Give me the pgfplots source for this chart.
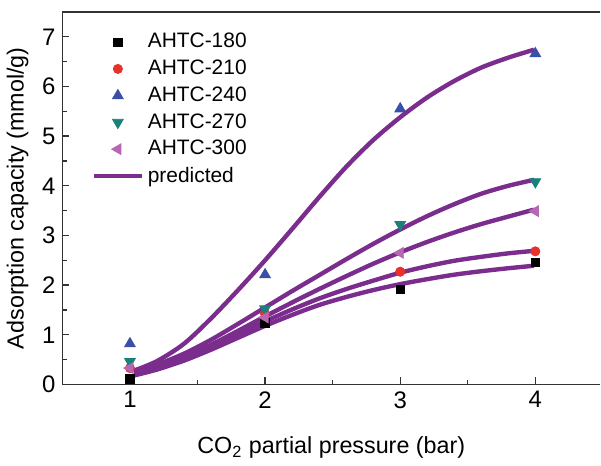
\documentclass[border=0pt]{standalone}
\usepackage{pgfplots}
\pgfplotsset{compat=1.18}
\usepackage{fontspec}
\setmainfont{Liberation Sans}

\definecolor{cred}{HTML}{E8312B}
\definecolor{cblue}{HTML}{3A4FA8}
\definecolor{cteal}{HTML}{1A807A}
\definecolor{cpink}{HTML}{B766B3}
\definecolor{cline}{HTML}{7B2D8E}

\begin{document}
\begin{tikzpicture}
\begin{axis}[
    scale only axis,
    width=270pt, height=187pt,
    xmin=0.5, xmax=4.48,
    ymin=0, ymax=7.5,
    axis y line*=left,
    axis x line*=box,
    axis line style={black!80, line width=0.8pt},
    xtick={1,2,3,4},
    ytick={0,1,...,7},
    minor x tick num=1,
    minor y tick num=1,
    xtick pos=bottom, ytick pos=left,
    tick align=inside,
    major tick length=3.5pt, minor tick length=2.2pt,
    tick style={black!80, line width=0.7pt},
    /pgf/number format/assume math mode=true,
    ticklabel style={font=\fontsize{12}{14}\selectfont},
    xlabel={CO\textsubscript{2} partial pressure (bar)},
    ylabel={Adsorption capacity (mmol/g)},
    label style={font=\fontsize{11.7}{14}\selectfont},
    xlabel style={yshift=-7.5pt},
    legend style={draw=none, fill=none, at={(0.043,0.965)}, anchor=north west,
        font=\fontsize{10.5}{13}\selectfont, row sep=0.6pt},
    legend cell align=left,
    legend image code/.code={\draw[mark repeat=2,mark phase=2] plot coordinates {(0cm,0cm) (0.42cm,0cm) (0.84cm,0cm)};},
]
\addplot[only marks, mark=square*, mark size=2.1pt, color=black]
    coordinates {(1,0.11) (2,1.24) (3,1.92) (4,2.46)};
\addlegendentry{AHTC-180}
\addplot[only marks, mark=*, mark size=2.3pt, color=cred]
    coordinates {(1,0.33) (2,1.42) (3,2.27) (4,2.68)};
\addlegendentry{AHTC-210}
\addplot[only marks, mark=triangle*, mark size=3.1pt, color=cblue]
    coordinates {(1,0.82) (2,2.21) (3,5.55) (4,6.66)};
\addlegendentry{AHTC-240}
\addplot[only marks, mark=triangle*, mark size=3.1pt, color=cteal, mark options={rotate=180}]
    coordinates {(1,0.46) (2,1.52) (3,3.22) (4,4.08)};
\addlegendentry{AHTC-270}
\addplot[only marks, mark=triangle*, mark size=3.1pt, color=cpink, mark options={rotate=90}]
    coordinates {(1,0.33) (2,1.35) (3,2.65) (4,3.49)};
\addlegendentry{AHTC-300}
% predicted curves
\addplot[cline, line width=2.2pt, smooth, no marks] coordinates {
(1.03,0.28) (1.2,0.47) (1.4,0.82) (1.6,1.33) (1.8,1.9) (2.0,2.5) (2.2,3.13) (2.4,3.77)
(2.6,4.38) (2.8,4.92) (3.0,5.38) (3.2,5.78) (3.4,6.11) (3.6,6.38) (3.8,6.58) (3.99,6.74)};
\addlegendentry{predicted}
\addplot[cline, line width=2.2pt, smooth, no marks, forget plot] coordinates {
(1.03,0.26) (1.2,0.40) (1.4,0.62) (1.6,0.9) (1.8,1.22) (2.0,1.55) (2.2,1.88) (2.4,2.2)
(2.6,2.52) (2.8,2.83) (3.0,3.12) (3.2,3.39) (3.4,3.63) (3.6,3.84) (3.8,4.0) (3.99,4.12)};
\addplot[cline, line width=2.2pt, smooth, no marks, forget plot] coordinates {
(1.03,0.24) (1.2,0.37) (1.4,0.56) (1.6,0.80) (1.8,1.08) (2.0,1.37) (2.2,1.65) (2.4,1.92)
(2.6,2.18) (2.8,2.43) (3.0,2.66) (3.2,2.87) (3.4,3.06) (3.6,3.23) (3.8,3.38) (3.99,3.52)};
\addplot[cline, line width=2.2pt, smooth, no marks, forget plot] coordinates {
(1.03,0.22) (1.2,0.35) (1.4,0.54) (1.6,0.77) (1.8,1.02) (2.0,1.27) (2.2,1.51) (2.4,1.73)
(2.6,1.92) (2.8,2.09) (3.0,2.25) (3.2,2.38) (3.4,2.49) (3.6,2.57) (3.8,2.64) (3.99,2.69)};
\addplot[cline, line width=2.2pt, smooth, no marks, forget plot] coordinates {
(1.03,0.18) (1.2,0.3) (1.4,0.48) (1.6,0.7) (1.8,0.94) (2.0,1.18) (2.2,1.4) (2.4,1.6)
(2.6,1.76) (2.8,1.9) (3.0,2.02) (3.2,2.12) (3.4,2.21) (3.6,2.28) (3.8,2.34) (3.99,2.39)};
\end{axis}
\path (current axis.north west) ++(0,6pt);
\end{tikzpicture}
\end{document}
